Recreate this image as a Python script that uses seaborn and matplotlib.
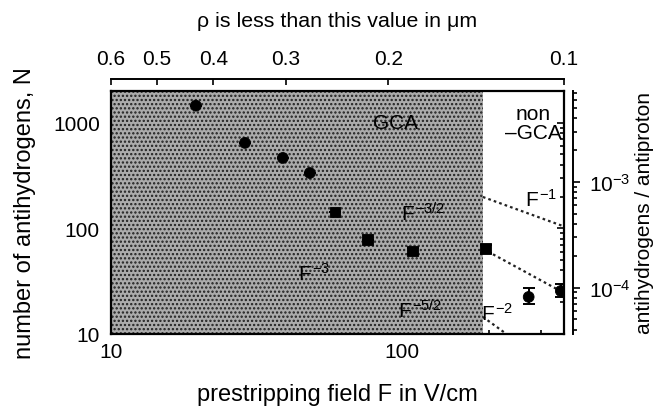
import numpy as np
import pandas as pd
import matplotlib
matplotlib.use("Agg")
import matplotlib.pyplot as plt
import seaborn as sns

# ---- data ----
field = [19.6, 28.9, 39.0, 48.3, 58.9, 76.4, 109, 194, 273, 352]
antihydrogens = [1450, 644, 464, 334, 143, 78, 61, 64, 22.4, 25.5]
err_lo = [0, 0, 0, 0, 0, 0, 4, 5, 3.3, 3.0]
err_hi = [0, 0, 0, 0, 0, 0, 4, 5, 5.0, 4.0]
marker_kind = ["circle", "circle", "circle", "circle", "square", "square",
               "square", "square", "circle", "circle"]

gca_limit = 190          # V/cm, boundary of GCA region
line_exponents = [1, 1.5, 2]
line_anchor_N = [198, 64, 14.5]   # value of each power law at F = gca_limit
line_labels = ["$F^{-1}$", "$F^{-3/2}$", "$F^{-2}$", "$F^{-5/2}$", "$F^{-3}$"]
label_pos_F = [300, 118, 212, 116, 50]
label_pos_N = [190, 140, 15.8, 17.0, 38]

rho_ticks = [0.6, 0.5, 0.4, 0.3, 0.2, 0.1]
ratio_per_N = 3.636e-6

sns.set_theme(style="ticks")
plt.rcParams["font.family"] = ["Liberation Sans", "DejaVu Sans"]
plt.rcParams["mathtext.fontset"] = "custom"
plt.rcParams["mathtext.rm"] = "Liberation Sans"
plt.rcParams["mathtext.it"] = "Liberation Sans"
plt.rcParams["mathtext.bf"] = "Liberation Sans:bold"
plt.rcParams["hatch.linewidth"] = 1.1
for key in ["text.color", "axes.labelcolor", "xtick.color", "ytick.color",
            "axes.edgecolor"]:
    plt.rcParams[key] = "black"

TICK_FS = 15
LAB_FS = 17

fig = plt.figure(figsize=(6.64, 4.14), dpi=100)
ax = fig.add_axes([0.167, 0.191, 0.682, 0.587])
ax.set_xscale("log")
ax.set_yscale("log")
ax.set_xlim(10, 360.3)
ax.set_ylim(10, 2000)

# GCA stippled region
ax.axvspan(10, gca_limit, facecolor="#ababab", edgecolor="#202020",
           hatch="....", linewidth=0, zorder=1)

# power-law guide lines in the non-GCA region
Fline = np.logspace(np.log10(gca_limit), np.log10(360), 50)
for p, a in zip(line_exponents, line_anchor_N):
    dfl = pd.DataFrame({"F": Fline, "N": a * (gca_limit / Fline) ** p})
    sns.lineplot(data=dfl, x="F", y="N", ax=ax, color="#222222",
                 linestyle=(0, (1.2, 1.4)), linewidth=1.6, zorder=2)

df = pd.DataFrame({"F": field, "N": antihydrogens, "kind": marker_kind})
ax.errorbar(field, antihydrogens, yerr=[err_lo, err_hi], fmt="none",
            ecolor="black", elinewidth=1.4, capsize=4.5, capthick=1.4, zorder=3)
sns.scatterplot(data=df, x="F", y="N", style="kind",
                markers={"circle": "o", "square": "s"}, color="black",
                s=60, edgecolor="black", ax=ax, legend=False, zorder=4)

for lab, fx, ny in zip(line_labels, label_pos_F, label_pos_N):
    ax.text(fx, ny, lab, fontsize=TICK_FS, ha="center", va="center", zorder=5)
ax.text(95, 1000, "GCA", fontsize=TICK_FS, ha="center", va="center", zorder=5)
ax.text(283, 1000, "non\n\u2013GCA", fontsize=TICK_FS, ha="center", va="center",
        linespacing=1.0, zorder=5)

ax.set_xlabel("prestripping field F in V/cm", fontsize=LAB_FS, labelpad=16)
ax.set_ylabel("number of antihydrogens, N", fontsize=LAB_FS, labelpad=12)
ax.set_xticks([10, 100])
ax.set_xticklabels(["10", "100"])
ax.set_yticks([10, 100, 1000])
ax.set_yticklabels(["10", "100", "1000"])
ax.tick_params(which="both", direction="in", labelsize=TICK_FS, width=1.2,
               right=True)
ax.tick_params(which="major", length=5)
ax.tick_params(which="minor", length=3)
ax.tick_params(axis="x", pad=6)
ax.tick_params(axis="y", pad=8)
for s in ax.spines.values():
    s.set_linewidth(1.6)
    s.set_color("black")

# top axis: rho
secx = ax.secondary_xaxis(1.05, functions=(lambda F: np.sqrt(3.6 / F),
                                              lambda r: 3.6 / np.square(r)))
secx.set_xticks(rho_ticks)
secx.set_xticklabels([f"{t:g}" for t in rho_ticks])
secx.xaxis.set_minor_locator(matplotlib.ticker.NullLocator())
secx.tick_params(direction="in", labelsize=TICK_FS, length=4, width=1.2, pad=8)
secx.spines["top"].set_linewidth(1.4)
secx.set_xlabel("\u03c1 is less than this value in \u03bcm", fontsize=15.4,
                labelpad=16)

# right axis: antihydrogens / antiproton
secy = ax.secondary_yaxis(1.02, functions=(lambda N: N * ratio_per_N,
                                              lambda r: r / ratio_per_N))
secy.set_yticks([1e-4, 1e-3])
secy.yaxis.set_major_formatter(matplotlib.ticker.LogFormatterSciNotation())
secy.tick_params(which="both", direction="out", labelsize=TICK_FS, width=1.2,
                 pad=7)
secy.tick_params(which="major", length=5)
secy.tick_params(which="minor", length=3)
secy.spines["right"].set_linewidth(1.4)
secy.set_ylabel("antihydrogens / antiproton", fontsize=15, labelpad=3)

fig.savefig("out.png", dpi=100)
